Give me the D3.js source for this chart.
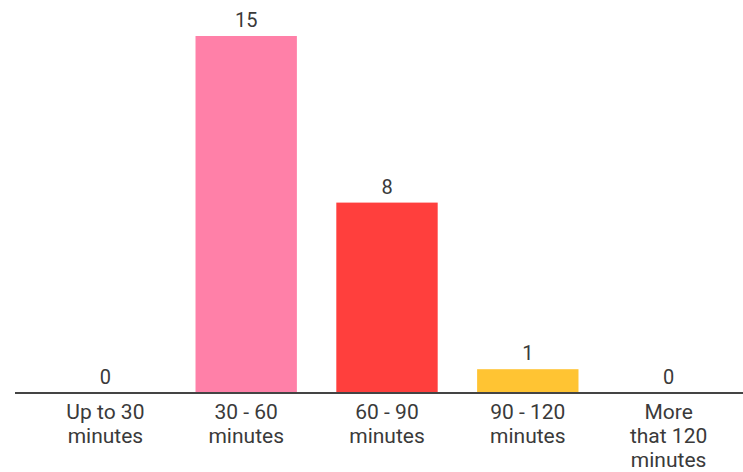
<!DOCTYPE html>
<html>
<head>
<meta charset="utf-8">
<script src="https://cdn.jsdelivr.net/npm/d3@7"></script>
<style>
  body { margin: 0; background: #fff; }
  svg text { font-family: Roboto, "Noto Sans", sans-serif; fill: #3a3a3a; }
</style>
</head>
<body>
<svg id="chart" width="743" height="472"></svg>
<script>
// categories + counts
var categories = ["Up to 30|minutes", "30 - 60|minutes", "60 - 90|minutes", "90 - 120|minutes", "More|that 120|minutes"];
var values = [0, 15, 8, 1, 0];
var colors = ["#ff80a8", "#ff80a8", "#ff3f3d", "#ffc433", "#ffc433"];

var width = 743, height = 472;
var baseY = 393;

var svg = d3.select("#chart");

var x = d3.scaleBand().domain(d3.range(categories.length)).range([35, 739]).paddingInner(0.28).paddingOuter(0.14);
var y = d3.scaleLinear().domain([0, 15]).range([baseY, 36]);

// bars
svg.append("g").selectAll("rect").data(values).join("rect")
  .attr("x", function(d, i){ return x(i); })
  .attr("y", function(d){ return y(d); })
  .attr("width", x.bandwidth())
  .attr("height", function(d){ return baseY - y(d); })
  .attr("fill", function(d, i){ return colors[i]; });

// value labels
svg.append("g").selectAll("text").data(values).join("text")
  .attr("x", function(d, i){ return x(i) + x.bandwidth()/2; })
  .attr("y", function(d){ return y(d) - 9; })
  .attr("text-anchor", "middle")
  .style("font-size", "20px")
  .text(function(d){ return d; });

// baseline
svg.append("line")
  .attr("x1", 15).attr("x2", 743)
  .attr("y1", baseY).attr("y2", baseY)
  .attr("stroke", "#444").attr("stroke-width", 2);

// category labels, split on |
var lbl = svg.append("g").selectAll("text").data(categories).join("text")
  .attr("text-anchor", "middle")
  .style("font-size", "21px")
  .attr("transform", function(d, i){ return "translate(" + (x(i) + x.bandwidth()/2) + ",419)"; });

lbl.selectAll("tspan").data(function(d){ return d.split("|"); }).join("tspan")
  .attr("x", 0)
  .attr("y", function(d, j){ return j * 24; })
  .text(function(d){ return d; });
</script>
</body>
</html>
